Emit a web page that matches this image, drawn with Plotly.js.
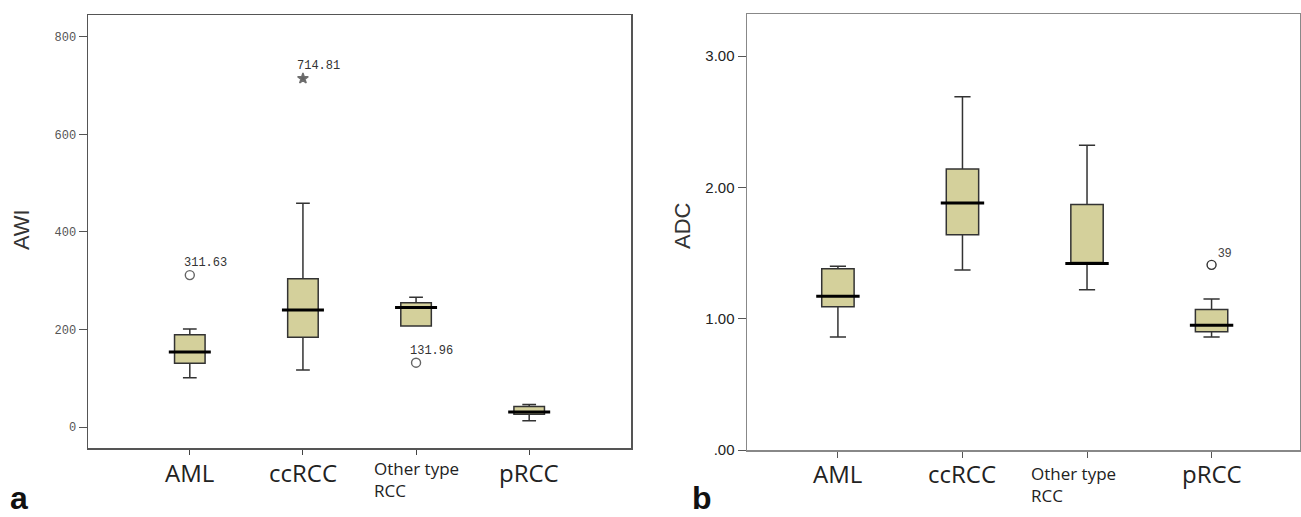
<!DOCTYPE html>
<html>
<head>
<meta charset="utf-8">
<script src="https://cdn.plot.ly/plotly-3.0.1.min.js"></script>
<style>html,body{margin:0;padding:0;background:#fff}#chart{width:1301px;height:517px}</style>
</head>
<body>
<div id="chart"></div>
<script>
// ---- data ----
const categories = ["AML", "ccRCC", "Other type RCC", "pRCC"];
const tickLabels = ["AML", "ccRCC", "Other type<br>RCC", "pRCC"];

// Panel a: AWI
const awiLower  = [101, 117, 207, 13];
const awiQ1     = [131, 184, 207, 26];
const awiMedian = [154, 240, 245, 31];
const awiQ3     = [189, 304, 255, 42];
const awiUpper  = [201, 459, 266, 46];
const awiOutCat = ["AML", "ccRCC", "Other type RCC"];
const awiOutVal = [311.63, 714.81, 131.96];
const awiOutSym = ["circle-open", "star", "circle-open"];
const awiTicks  = [0, 200, 400, 600, 800];

// Panel b: ADC
const adcLower  = [0.86, 1.37, 1.22, 0.86];
const adcQ1     = [1.09, 1.64, 1.42, 0.90];
const adcMedian = [1.17, 1.88, 1.42, 0.95];
const adcQ3     = [1.38, 2.14, 1.87, 1.07];
const adcUpper  = [1.40, 2.69, 2.32, 1.15];
const adcOutCat = ["pRCC"];
const adcOutVal = [1.41];
const adcOutLbl = ["39"];
const adcTicks  = [0, 1, 2, 3];
const adcTickText = [".00", "1.00", "2.00", "3.00"];

// ---- styles ----
const FILL = "#D4D09B";
const monoFont = "Liberation Mono, DejaVu Sans Mono, monospace";

const traces = [
  {type: "box", x: categories, q1: awiQ1, median: awiMedian, q3: awiQ3,
   lowerfence: awiLower, upperfence: awiUpper, width: 0.27, whiskerwidth: 0.45,
   fillcolor: FILL, line: {color: "#333", width: 1.5}, boxpoints: false,
   xaxis: "x", yaxis: "y", showlegend: false, hoverinfo: "skip"},
  {type: "scatter", mode: "markers", x: categories, y: awiMedian,
   marker: {symbol: "line-ew-open", size: 30, color: "#000", line: {color: "#000", width: 3}},
   xaxis: "x", yaxis: "y", showlegend: false, hoverinfo: "skip"},
  {type: "scatter", mode: "markers", x: awiOutCat, y: awiOutVal,
   marker: {symbol: awiOutSym, size: [9, 8, 9], color: "#222",
            line: {color: "#333", width: 1.4}},
   xaxis: "x", yaxis: "y", showlegend: false, hoverinfo: "skip"},

  {type: "box", x: categories, q1: adcQ1, median: adcMedian, q3: adcQ3,
   lowerfence: adcLower, upperfence: adcUpper, width: 0.26, whiskerwidth: 0.5,
   fillcolor: FILL, line: {color: "#333", width: 1.5}, boxpoints: false,
   xaxis: "x2", yaxis: "y2", showlegend: false, hoverinfo: "skip"},
  {type: "scatter", mode: "markers", x: categories, y: adcMedian,
   marker: {symbol: "line-ew-open", size: 31, color: "#000", line: {color: "#000", width: 3}},
   xaxis: "x2", yaxis: "y2", showlegend: false, hoverinfo: "skip"},
  {type: "scatter", mode: "markers", x: adcOutCat, y: adcOutVal,
   marker: {symbol: "circle-open", size: 9, color: "#333", line: {color: "#333", width: 1.4}},
   xaxis: "x2", yaxis: "y2", showlegend: false, hoverinfo: "skip"}
];

const annotations = [];
// outlier labels
awiOutCat.forEach((c, i) => {
  annotations.push({xref: "x", yref: "y", x: c, y: awiOutVal[i],
    text: awiOutVal[i].toFixed(2), showarrow: false, xanchor: "left", yanchor: "middle",
    xshift: -8, yshift: 12, font: {family: monoFont, size: 12, color: "#333"}});
});
adcOutCat.forEach((c, i) => {
  annotations.push({xref: "x2", yref: "y2", x: c, y: adcOutVal[i],
    text: adcOutLbl[i], showarrow: false, xanchor: "left", yanchor: "middle",
    xshift: 4, yshift: 12, font: {family: "Liberation Sans, Arial", size: 12, color: "#444"}});
});
// category labels
const labelSizes = [24, 24, 17, 24];
[["x", 0.087, 0.073], ["x2", 0.085, 0.062]].forEach(([ax, yBig, ySmall]) => {
  categories.forEach((c, i) => {
    const small = labelSizes[i] < 20;
    annotations.push({xref: ax, yref: "paper", x: c, y: small ? ySmall : yBig,
      text: tickLabels[i], showarrow: false, xanchor: "center", yanchor: "middle",
      align: "left", xshift: (small && ax === "x2") ? -14 : 0,
      font: {family: "Open Sans, Liberation Sans, sans-serif", size: labelSizes[i], color: "#222"}});
  });
});
// axis titles and panel letters
annotations.push({xref: "paper", yref: "paper", x: 22 / 1301, y: 1 - 230 / 517, text: "AWI",
  textangle: -90, showarrow: false, xanchor: "center", yanchor: "middle",
  font: {family: "Liberation Sans Narrow, Liberation Sans, Arial", size: 22, color: "#333"}});
annotations.push({xref: "paper", yref: "paper", x: 682 / 1301, y: 1 - 226 / 517, text: "ADC",
  textangle: -90, showarrow: false, xanchor: "center", yanchor: "middle",
  font: {family: "Liberation Sans Narrow, Liberation Sans, Arial", size: 22, color: "#333"}});
annotations.push({xref: "paper", yref: "paper", x: 8 / 1301, y: 1 - 498 / 517, text: "<b>a</b>",
  showarrow: false, xanchor: "left", yanchor: "middle",
  font: {family: "Liberation Sans, Arial", size: 32, color: "#111"}});
annotations.push({xref: "paper", yref: "paper", x: 690 / 1301, y: 1 - 498 / 517, text: "<b>b</b>",
  showarrow: false, xanchor: "left", yanchor: "middle",
  font: {family: "Liberation Sans, Arial", size: 32, color: "#111"}});

const layout = {
  width: 1301, height: 517,
  margin: {l: 0, r: 0, t: 0, b: 0},
  paper_bgcolor: "#fff", plot_bgcolor: "#fff",
  showlegend: false,
  xaxis: {domain: [88 / 1301, 631 / 1301], type: "category", categoryarray: categories,
    range: [-0.9, 3.9], showgrid: false, zeroline: false, showline: true, mirror: true,
    linecolor: "#555", linewidth: 1.5, ticks: "outside", ticklen: 5, tickcolor: "#444",
    showticklabels: false, anchor: "y"},
  yaxis: {domain: [1 - 448 / 517, 1 - 15 / 517], range: [-43, 845],
    tickvals: awiTicks, showgrid: false, zeroline: false, showline: true, mirror: true,
    linecolor: "#555", linewidth: 1.5, ticks: "outside", ticklen: 8, tickcolor: "#555",
    tickfont: {family: monoFont, size: 12, color: "#555"}, anchor: "x"},
  xaxis2: {domain: [747 / 1301, 1300 / 1301], type: "category", categoryarray: categories,
    range: [-0.73, 3.71], showgrid: false, zeroline: false, showline: true, mirror: true,
    linecolor: "#888", linewidth: 1.5, ticks: "outside", ticklen: 6, tickcolor: "#555",
    showticklabels: false, anchor: "y2"},
  yaxis2: {domain: [1 - 450 / 517, 1 - 14 / 517], range: [0, 3.32],
    tickvals: adcTicks, ticktext: adcTickText, showgrid: false, zeroline: false,
    showline: true, mirror: true, linecolor: "#888", linewidth: 1.5,
    ticks: "outside", ticklen: 8, tickcolor: "#555",
    tickfont: {family: "Liberation Sans, Arial", size: 15, color: "#222"}, anchor: "x2"},
  annotations: annotations
};

Plotly.newPlot("chart", traces, layout, {displayModeBar: false, staticPlot: true});
</script>
</body>
</html>
